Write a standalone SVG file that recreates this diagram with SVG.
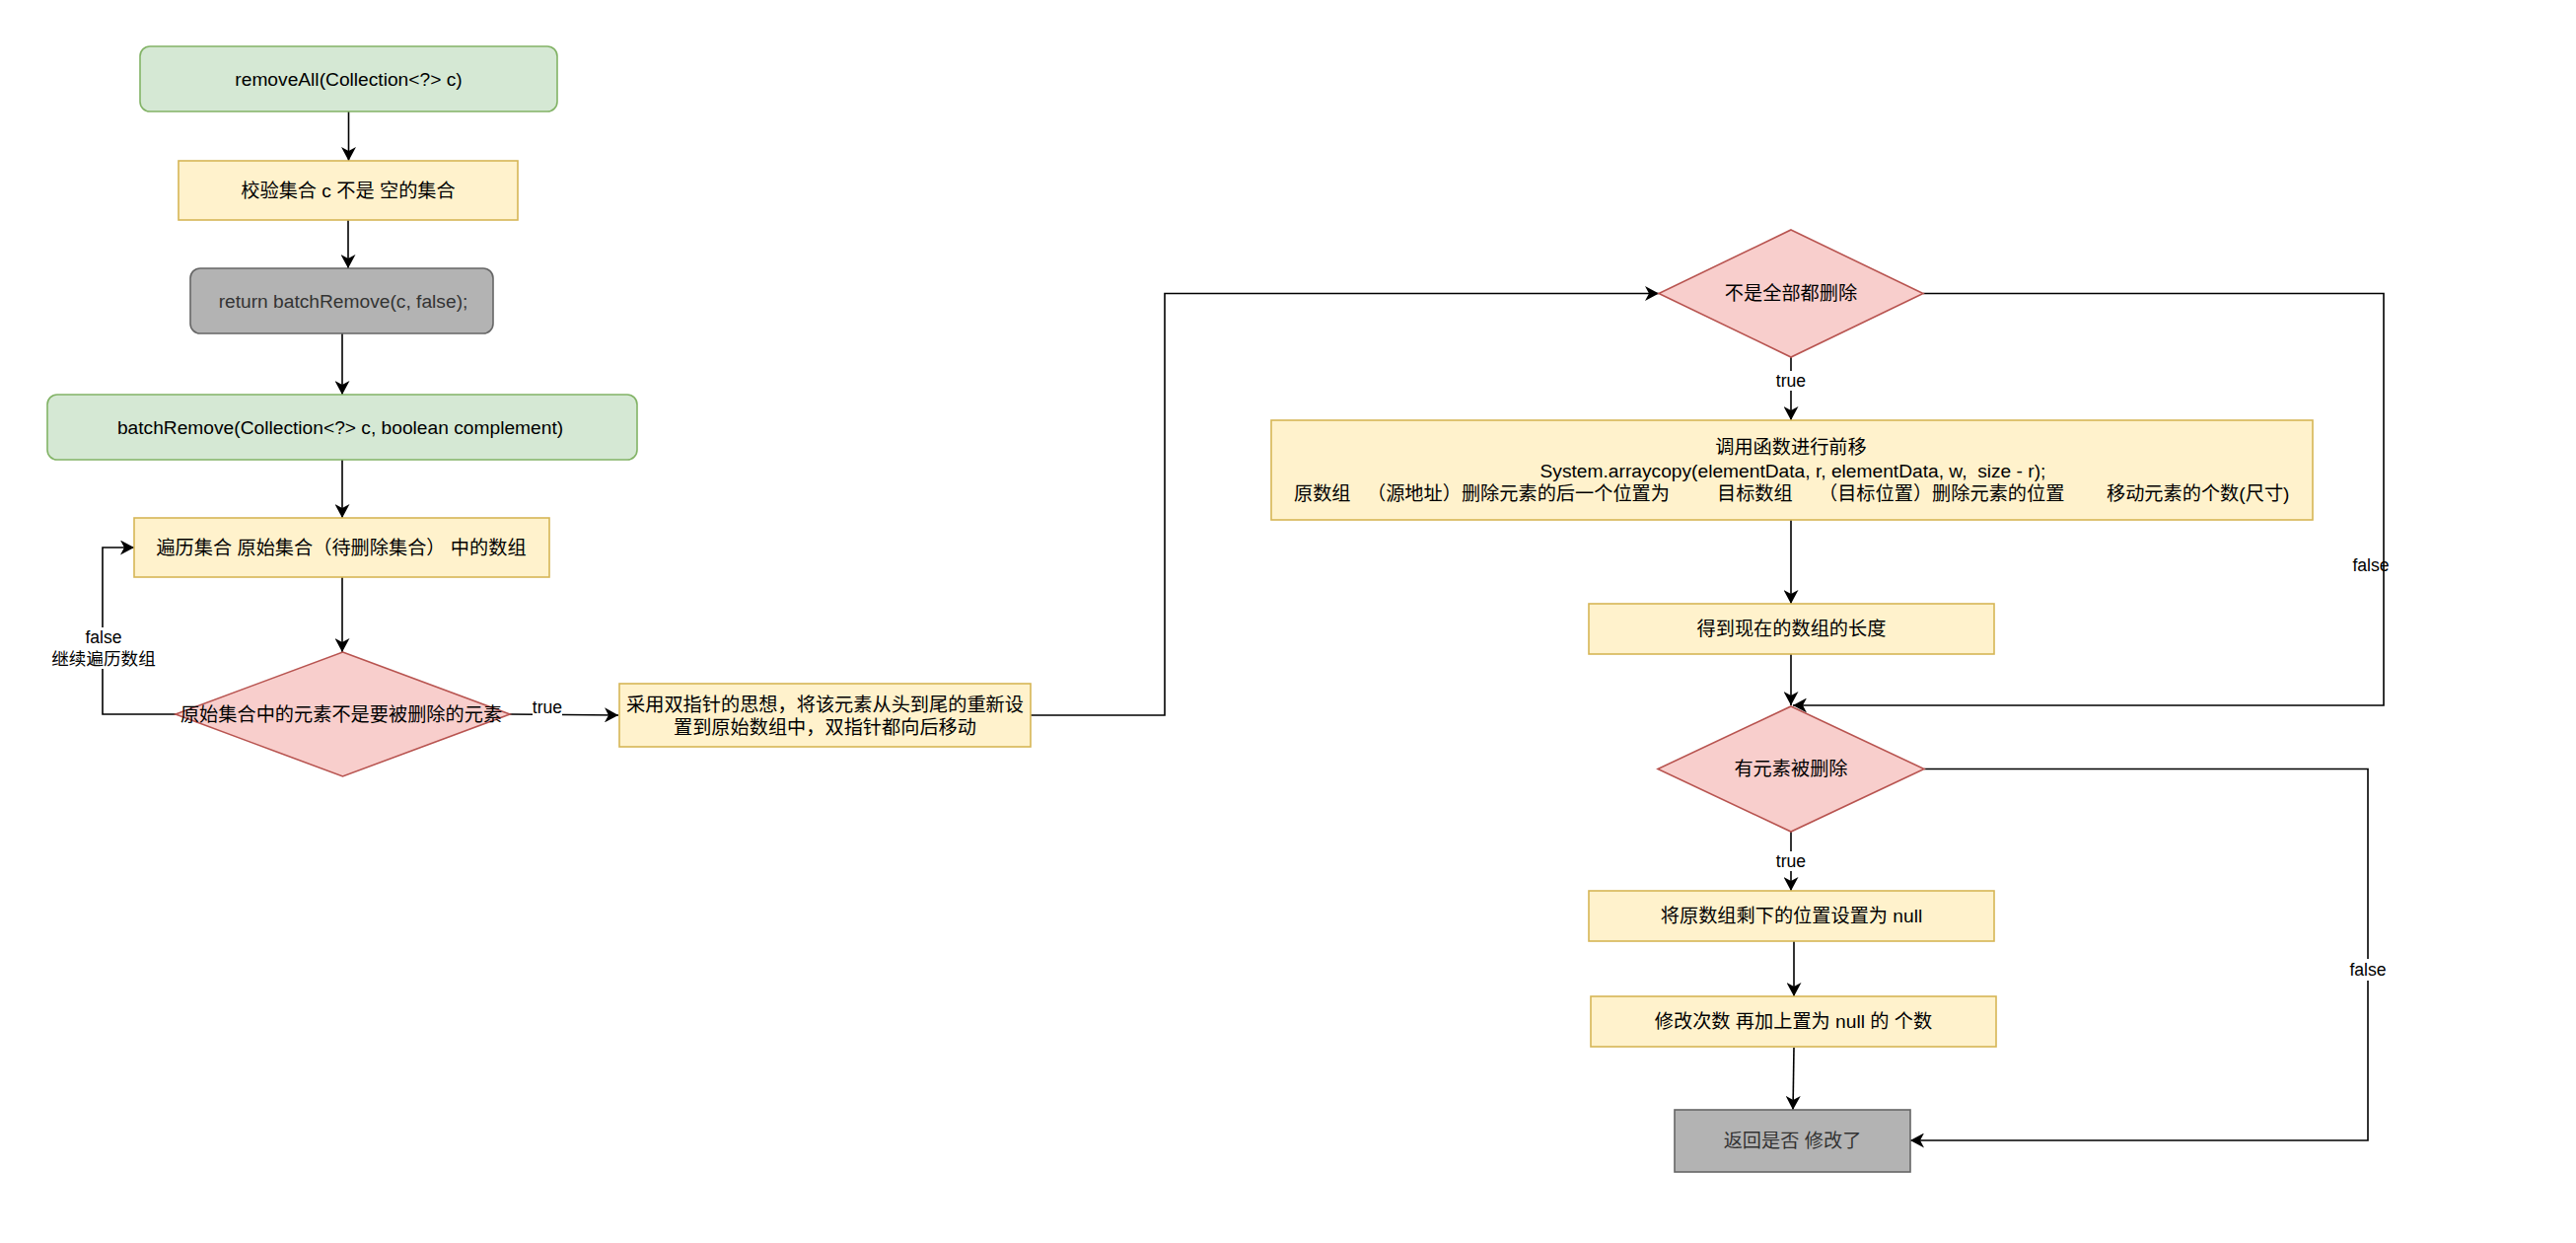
<svg xmlns="http://www.w3.org/2000/svg" width="2612" height="1260" viewBox="0 0 2612 1260">
<style>
text{font-family:"Liberation Sans",Arial,"Noto Sans CJK SC",sans-serif;font-size:19.2px;fill:#000;text-anchor:middle;dominant-baseline:central}
.g{fill:#d5e8d4;stroke:#82b366;stroke-width:1.6}
.y{fill:#fff2cc;stroke:#d6b656;stroke-width:1.6}
.r{fill:#f8cecc;stroke:#b85450;stroke-width:1.6}
.k{fill:#b3b3b3;stroke:#666666;stroke-width:1.6}
.kt{fill:#333333}
.e{fill:none;stroke:#000;stroke-width:1.6}
.lbl{font-size:17.6px}
.bg{fill:#fff;stroke:none}
.st{text-anchor:start}
</style>
<defs>
<marker id="arr" markerUnits="userSpaceOnUse" viewBox="0 0 14 15" refX="14" refY="7.5" markerWidth="14" markerHeight="15" orient="auto">
<path d="M0,0 L14,7.5 L0,15 L4,7.5 Z" fill="#000"/>
</marker>
</defs>
<rect width="2612" height="1260" fill="#fff"/>
<g id="connectors">
<path class="e" d="M353.5,113 L353.5,163" marker-end="url(#arr)"/>
<path class="e" d="M353,223 L353,272" marker-end="url(#arr)"/>
<path class="e" d="M347,338 L347,400" marker-end="url(#arr)"/>
<path class="e" d="M347,466 L347,525" marker-end="url(#arr)"/>
<path class="e" d="M347,585 L347,661" marker-end="url(#arr)"/>
<path class="e" d="M178,724 L104,724 L104,555 L136,555" marker-end="url(#arr)"/>
<rect class="bg" x="53" y="636" width="104" height="42"/>
<text class="lbl" x="105" y="646">false</text>
<text class="lbl" x="105" y="668">继续遍历数组</text>
<path class="e" d="M517,724 L627,725" marker-end="url(#arr)"/>
<rect class="bg" x="540" y="708" width="30" height="19"/>
<text class="lbl" x="555" y="717">true</text>
<path class="e" d="M1045,725 L1181,725 L1181,297.5 L1682,297.5" marker-end="url(#arr)"/>
<path class="e" d="M1816,362 L1816,426" marker-end="url(#arr)"/>
<rect class="bg" x="1801" y="376" width="30" height="20"/>
<text class="lbl" x="1816" y="386">true</text>
<path class="e" d="M1950,297.5 L2417,297.5 L2417,715 L1818,715" marker-end="url(#arr)"/>
<text class="lbl" x="2404" y="573">false</text>
<path class="e" d="M1816,527 L1816,612" marker-end="url(#arr)"/>
<path class="e" d="M1816,663 L1816,715" marker-end="url(#arr)"/>
<path class="e" d="M1816,843 L1816,903" marker-end="url(#arr)"/>
<rect class="bg" x="1801" y="863" width="30" height="20"/>
<text class="lbl" x="1816" y="873">true</text>
<path class="e" d="M1819,954 L1819,1010" marker-end="url(#arr)"/>
<path class="e" d="M1819,1062 L1818,1125" marker-end="url(#arr)"/>
<path class="e" d="M1951,779.5 L2401,779.5 L2401,1156 L1937,1156" marker-end="url(#arr)"/>
<rect class="bg" x="2383" y="972" width="36" height="22"/>
<text class="lbl" x="2401" y="983">false</text>
</g>
<g id="n1"><rect class="g" x="142" y="47" width="423" height="66" rx="10"/><text x="353.5" y="80">removeAll(Collection&lt;?&gt; c)</text></g>
<g id="n2"><rect class="y" x="181" y="163" width="344" height="60"/><text x="353" y="193">校验集合 c 不是 空的集合</text></g>
<g id="n3"><rect class="k" x="193" y="272" width="307" height="66" rx="10"/><text class="kt" x="348" y="305">return batchRemove(c, false);</text></g>
<g id="n4"><rect class="g" x="48" y="400" width="598" height="66" rx="10"/><text x="345" y="433">batchRemove(Collection&lt;?&gt; c, boolean complement)</text></g>
<g id="n5"><rect class="y" x="136" y="525" width="421" height="60"/><text x="346" y="555">遍历集合 原始集合（待删除集合） 中的数组</text></g>
<g id="n6"><polygon class="r" points="347.5,661 517,724 347.5,787 178,724"/><text x="346" y="724">原始集合中的元素不是要被删除的元素</text></g>
<g id="n7"><rect class="y" x="628" y="693" width="417" height="64"/><text x="836.5" y="714">采用双指针的思想，将该元素从头到尾的重新设</text><text x="836.5" y="737">置到原始数组中，双指针都向后移动</text></g>
<g id="n8"><polygon class="r" points="1816,233 1950,297.5 1816,362 1682,297.5"/><text x="1816" y="297">不是全部都删除</text></g>
<g id="n9"><rect class="y" x="1289" y="426" width="1056" height="101"/>
<text x="1816" y="453">调用函数进行前移</text>
<text x="1818" y="477">System.arraycopy(elementData, r, elementData, w,&#160; size - r);</text>
<text class="st" y="500"><tspan x="1312">原数组</tspan><tspan x="1386">（源地址）删除元素的后一个位置为</tspan><tspan x="1741">目标数组</tspan><tspan x="1844">（目标位置）删除元素的位置</tspan><tspan x="2136">移动元素的个数(尺寸)</tspan></text>
</g>
<g id="n10"><rect class="y" x="1611" y="612" width="411" height="51"/><text x="1816.5" y="637.5">得到现在的数组的长度</text></g>
<g id="n11"><polygon class="r" points="1816,716 1951,779.5 1816,843 1681,779.5"/><text x="1816" y="779.5">有元素被删除</text></g>
<g id="n12"><rect class="y" x="1611" y="903" width="411" height="51"/><text x="1816.5" y="928.5">将原数组剩下的位置设置为 null</text></g>
<g id="n13"><rect class="y" x="1613" y="1010" width="411" height="51"/><text x="1818.5" y="1035.5">修改次数 再加上置为 null 的 个数</text></g>
<g id="n14"><rect class="k" x="1698" y="1125" width="239" height="63"/><text class="kt" x="1817.5" y="1156.5">返回是否 修改了</text></g>
</svg>
